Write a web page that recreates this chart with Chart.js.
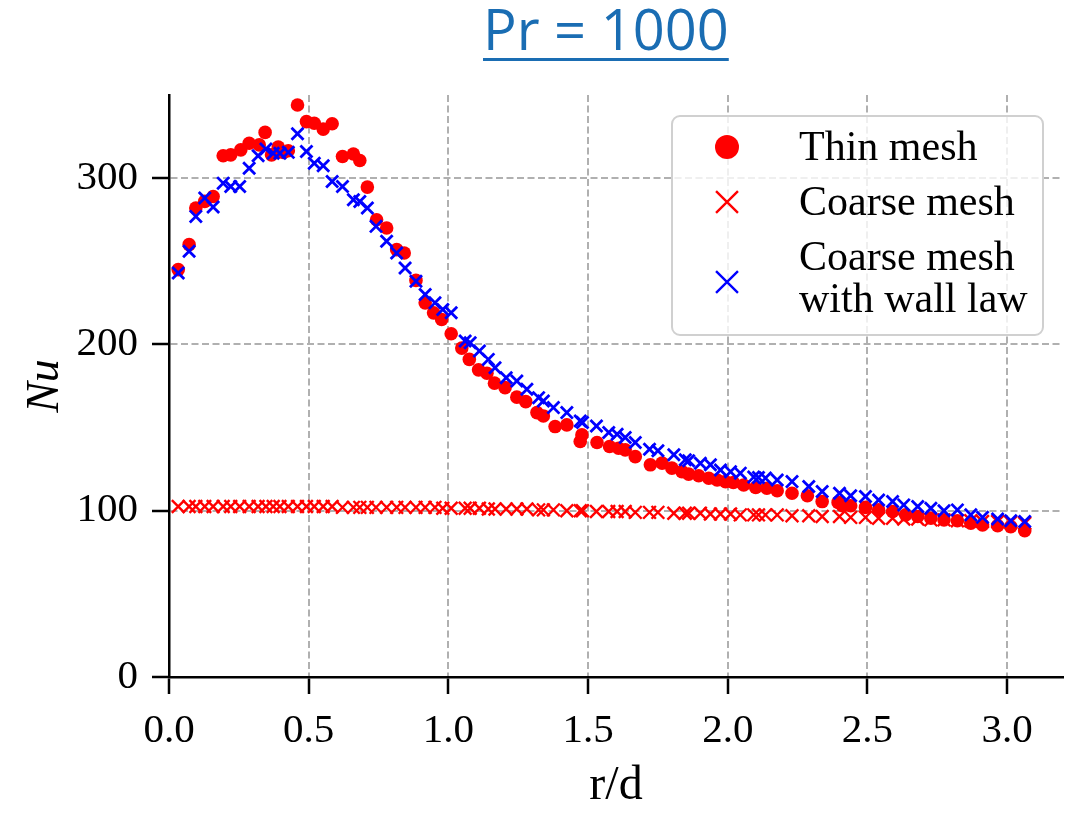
<!DOCTYPE html>
<html>
<head>
<meta charset="utf-8">
<title>Pr = 1000</title>
<script src="https://cdn.jsdelivr.net/npm/chart.js@4.4.0/dist/chart.umd.min.js"></script>
<style>
    html, body { margin: 0; padding: 0; background: #fff; }
    #wrap { position: relative; width: 1084px; height: 814px; overflow: hidden; }
    #title {
        position: absolute; left: 483px; top: 0; z-index: 2;
        font-family: "Open Sans", "Noto Sans", sans-serif; font-size: 56px; line-height: 56px;
        color: #1a6db3; white-space: nowrap;
        text-decoration: underline; text-decoration-thickness: 3px; text-underline-offset: 8px;
    }
    #nu-chart { position: absolute; left: 0; top: 0; }
</style>
</head>
<body>
<div id="wrap">
    <div id="title">Pr = 1000</div>
    <canvas id="nu-chart" width="1084" height="814"></canvas>
</div>
<script>
// --- Data (r/d, Nu) ---
const thinX = [0.033, 0.072, 0.096, 0.128, 0.158, 0.194, 0.221, 0.257, 0.287, 0.323,
    0.344, 0.367, 0.391, 0.409, 0.427, 0.46, 0.492, 0.52, 0.552, 0.584,
    0.621, 0.66, 0.683, 0.71, 0.743, 0.779, 0.815, 0.842, 0.884, 0.917,
    0.947, 0.976, 1.01, 1.048, 1.075, 1.108, 1.138, 1.165, 1.203, 1.245,
    1.277, 1.317, 1.34, 1.382, 1.424, 1.472, 1.478, 1.532, 1.577, 1.609,
    1.633, 1.669, 1.723, 1.765, 1.80, 1.836, 1.86, 1.896, 1.932, 1.962,
    1.992, 2.02, 2.057, 2.1, 2.14, 2.177, 2.23, 2.285, 2.338, 2.395,
    2.41, 2.44, 2.493, 2.54, 2.59, 2.637, 2.68, 2.727, 2.774, 2.822,
    2.87, 2.912, 2.966, 3.013, 3.063];
const thinNu = [245, 260, 282, 286, 289, 313.5, 314, 317, 321, 320,
    327.5, 314, 318.7, 315.5, 316.5, 344, 334, 333, 329.5, 332.7,
    313, 314.5, 310.6, 294.6, 275, 270, 257, 255, 238.5, 225,
    219, 215, 206.4, 197.8, 191, 184.7, 182.7, 176.7, 174, 168.3,
    165.6, 159, 157, 150.6, 151.6, 141.6, 145.6, 141, 138.6, 137.6,
    136.6, 132.5, 127.6, 128.6, 125.6, 123.5, 122, 121, 119.5, 118.5,
    117.5, 117, 115.5, 114, 113.5, 112, 110.5, 109, 105.5, 105,
    103, 103, 102, 100.5, 99.5, 97.5, 96.5, 95.5, 94.5, 94,
    92.5, 91.5, 91, 90.4, 88];

const wallX = [0.033, 0.072, 0.096, 0.128, 0.158, 0.194, 0.221, 0.253, 0.287, 0.319,
    0.347, 0.373, 0.397, 0.427, 0.46, 0.492, 0.52, 0.552, 0.584, 0.621,
    0.66, 0.683, 0.71, 0.741, 0.779, 0.815, 0.845, 0.884, 0.917, 0.952,
    0.98, 1.01, 1.06, 1.078, 1.111, 1.143, 1.167, 1.207, 1.245, 1.281,
    1.323, 1.34, 1.376, 1.424, 1.472, 1.48, 1.53, 1.574, 1.604, 1.633,
    1.669, 1.72, 1.75, 1.807, 1.848, 1.86, 1.902, 1.938, 1.974, 2.01,
    2.045, 2.093, 2.11, 2.135, 2.177, 2.23, 2.29, 2.338, 2.40, 2.44,
    2.493, 2.54, 2.59, 2.63, 2.68, 2.727, 2.774, 2.822, 2.87, 2.912,
    2.966, 3.013, 3.063];
const wallNu = [243, 256, 277, 288, 282.6, 297, 295, 295, 306, 313.5,
    317.5, 315, 315, 315.5, 326.7, 316, 309, 307.5, 298, 295,
    287, 286, 282, 271, 262, 255, 246, 238, 230, 225,
    221, 219, 202, 201, 196, 191, 186, 180, 178, 173,
    168, 166, 162, 159, 154, 153, 151, 147, 146, 144,
    141, 137, 136, 133.6, 130.6, 130, 128.6, 127.6, 124.5, 123.5,
    122.6, 120.2, 120, 119.6, 118.5, 117.5, 114.5, 111.5, 110.5, 109,
    108.5, 106.5, 105.5, 103.5, 102.5, 101.5, 100, 100.5, 97.5, 96,
    95, 94, 93.5];

// coarse mesh uses the same nodes as the wall-law run
const coarseX = wallX;
const coarseNu = [102.5, 102.5, 102.5, 102.5, 102.5, 102.5, 102.5, 102.5, 102.5, 102.5,
    102.5, 102.5, 102.5, 102.5, 102.5, 102.5, 102.5, 102.5, 102.5, 102,
    102, 102, 102, 102, 102, 102, 102, 102, 102, 102,
    101.5, 101.5, 101.5, 101.5, 101.5, 101, 101, 101, 101, 101,
    100.5, 100.5, 100.5, 100, 100, 100, 99.5, 99.5, 99.5, 99.5,
    99, 99, 99, 98.5, 98.5, 98.5, 98.5, 98, 98, 98,
    97.5, 97.5, 97.5, 97.5, 97.5, 97, 97, 96.5, 96.5, 96,
    96, 95.5, 95.5, 95, 95, 94.5, 94.5, 94, 94, 93.5,
    93.5, 93, 92.5];

const xTicksMax = 3.2;
const yTicksMax = 350;
const legendLabels = [['Thin mesh'], ['Coarse mesh'], ['Coarse mesh', 'with wall law']];

const serif = "'Liberation Serif', 'Times New Roman', serif";

function toPoints(xs, ys) {
    return xs.map((x, i) => ({ x: x, y: ys[i] }));
}

// Legend drawn inside the plot, matplotlib style
const insideLegend = {
    id: 'insideLegend',
    afterDraw(chart) {
        const ctx = chart.ctx;
        const area = chart.chartArea;
        const boxW = 371, boxH = 219;
        const bx = area.right - 20 - boxW;
        const by = area.top + 21;

        ctx.save();
        ctx.beginPath();
        ctx.roundRect(bx, by, boxW, boxH, 8);
        ctx.fillStyle = 'rgba(255,255,255,0.8)';
        ctx.fill();
        ctx.lineWidth = 2;
        ctx.strokeStyle = '#d0d0d0';
        ctx.stroke();

        const mx = bx + 55;
        const tx = bx + 127;
        const markers = [
            { style: 'circle', radius: 12, fill: '#ff0000', stroke: '#ff0000', width: 0, y: by + 31 },
            { style: 'crossRot', radius: 15.5, fill: '#ff0000', stroke: '#ff0000', width: 2.4, y: by + 86 },
            { style: 'crossRot', radius: 15.5, fill: '#0000ff', stroke: '#0000ff', width: 2.4, y: by + 166 }
        ];
        const textLines = [[by + 44], [by + 99], [by + 154, by + 196]];

        markers.forEach((m, i) => {
            ctx.fillStyle = m.fill;
            ctx.strokeStyle = m.stroke;
            ctx.lineWidth = m.width;
            Chart.helpers.drawPoint(ctx, { pointStyle: m.style, radius: m.radius, rotation: 0, borderWidth: m.width }, mx, m.y);

            ctx.fillStyle = '#000';
            ctx.font = '42px ' + serif;
            ctx.textBaseline = 'alphabetic';
            ctx.textAlign = 'left';
            legendLabels[i].forEach((line, j) => {
                ctx.fillText(line, tx, textLines[i][j]);
            });
        });
        ctx.restore();
    }
};

document.addEventListener('DOMContentLoaded', function() {
    const ctx = document.getElementById('nu-chart').getContext('2d');

    const gridOpts = {
        color: '#b0b0b0',
        lineWidth: 2,
        tickColor: '#000',
        tickWidth: 2.5,
        tickLength: 17,
        tickBorderDash: []
    };

    new Chart(ctx, {
        type: 'scatter',
        data: {
            datasets: [
                {
                    label: 'Thin mesh',
                    data: toPoints(thinX, thinNu),
                    pointStyle: 'circle',
                    pointRadius: 6.8,
                    pointHoverRadius: 6.8,
                    backgroundColor: '#ff0000',
                    borderColor: '#ff0000',
                    borderWidth: 0,
                    order: 1
                },
                {
                    label: 'Coarse mesh',
                    data: toPoints(coarseX, coarseNu),
                    pointStyle: 'crossRot',
                    pointRadius: 9,
                    pointHoverRadius: 9,
                    backgroundColor: '#ff0000',
                    borderColor: '#ff0000',
                    borderWidth: 2.4,
                    order: 2
                },
                {
                    label: 'Coarse mesh with wall law',
                    data: toPoints(wallX, wallNu),
                    pointStyle: 'crossRot',
                    pointRadius: 8.5,
                    pointHoverRadius: 8.5,
                    backgroundColor: '#0000ff',
                    borderColor: '#0000ff',
                    borderWidth: 2.8,
                    order: 0
                }
            ]
        },
        options: {
            responsive: false,
            animation: false,
            devicePixelRatio: 1,
            layout: { padding: { top: 95, right: 21, left: 0, bottom: 0 } },
            plugins: {
                legend: { display: false },
                tooltip: { enabled: false },
                title: { display: false }
            },
            scales: {
                x: {
                    type: 'linear',
                    min: 0,
                    max: xTicksMax,
                    ticks: {
                        stepSize: 0.5,
                        includeBounds: false,
                        maxRotation: 0,
                        padding: 13,
                        color: '#000',
                        font: { family: serif, size: 41 },
                        callback: function(value) { return value.toFixed(1); }
                    },
                    grid: gridOpts,
                    border: { color: '#000', width: 2.5, dash: [7, 3.5] },
                    title: {
                        display: true,
                        text: 'r/d',
                        color: '#000',
                        font: { family: serif, size: 48, lineHeight: 1 },
                        padding: { top: 0, bottom: 4 }
                    },
                    afterFit: function(scale) { scale.height = 137; }
                },
                y: {
                    type: 'linear',
                    min: 0,
                    max: yTicksMax,
                    ticks: {
                        stepSize: 100,
                        includeBounds: false,
                        padding: 14,
                        color: '#000',
                        font: { family: serif, size: 41 }
                    },
                    grid: gridOpts,
                    border: { color: '#000', width: 2.5, dash: [7, 3.5] },
                    title: {
                        display: true,
                        text: 'Nu',
                        color: '#000',
                        font: { family: serif, size: 46, style: 'italic', lineHeight: 1 },
                        padding: { top: 23, bottom: 0 }
                    },
                    afterFit: function(scale) { scale.width = 169; }
                }
            }
        },
        plugins: [insideLegend]
    });
});
</script>
</body>
</html>
